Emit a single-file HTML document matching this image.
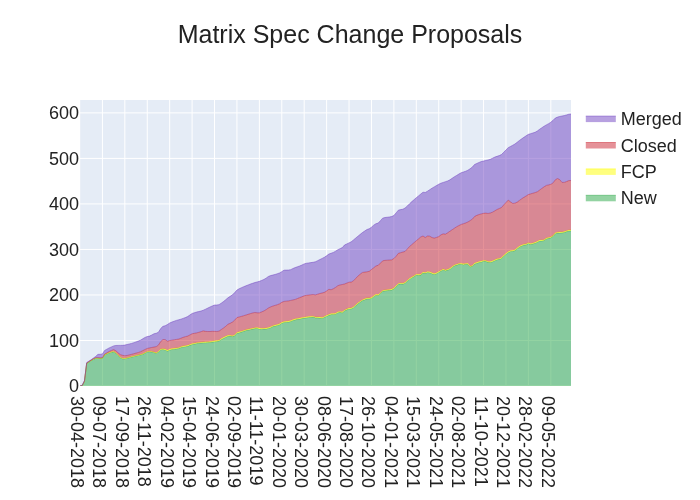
<!DOCTYPE html>
<html><head><meta charset="utf-8"><title>Matrix Spec Change Proposals</title>
<style>html,body{margin:0;padding:0;background:#fff}svg{display:block}text{font-family:"Liberation Sans",Arial,sans-serif;fill:#222}</style></head><body>
<svg width="700" height="500" viewBox="0 0 700 500">
<rect width="700" height="500" fill="#fff"/>
<rect x="80.0" y="100.0" width="491.0" height="286.0" fill="#e5ecf6"/>
<clipPath id="c"><rect x="80" y="100" width="491" height="286"/></clipPath>
<g stroke="#fff" stroke-width="1" clip-path="url(#c)">
<path d="M79.70,100V386"/>
<path d="M102.42,100V386"/>
<path d="M124.84,100V386"/>
<path d="M147.26,100V386"/>
<path d="M169.68,100V386"/>
<path d="M192.10,100V386"/>
<path d="M214.52,100V386"/>
<path d="M236.94,100V386"/>
<path d="M259.36,100V386"/>
<path d="M281.78,100V386"/>
<path d="M304.20,100V386"/>
<path d="M326.62,100V386"/>
<path d="M349.04,100V386"/>
<path d="M371.46,100V386"/>
<path d="M393.88,100V386"/>
<path d="M416.30,100V386"/>
<path d="M438.72,100V386"/>
<path d="M461.14,100V386"/>
<path d="M483.56,100V386"/>
<path d="M505.98,100V386"/>
<path d="M528.40,100V386"/>
<path d="M550.82,100V386"/>
<path d="M80,340.48H571"/>
<path d="M80,294.96H571"/>
<path d="M80,249.44H571"/>
<path d="M80,203.92H571"/>
<path d="M80,158.40H571"/>
<path d="M80,112.88H571"/>
</g>
<path d="M80,386H571" stroke="#fff" stroke-width="2"/>
<g clip-path="url(#c)">
<path d="M80.00,386.00L82.24,385.60L84.48,381.47L86.73,363.50L88.97,362.08L91.21,360.68L93.45,359.39L95.69,358.36L97.94,358.33L100.18,358.52L102.42,358.35L104.66,354.93L106.90,353.93L109.15,352.96L111.39,352.36L113.63,351.87L115.87,353.13L118.11,355.47L120.36,357.69L122.60,358.80L124.84,358.80L127.08,358.26L129.32,357.69L131.57,357.11L133.81,356.55L136.05,355.99L138.29,355.43L140.53,354.89L142.78,354.35L145.02,353.10L147.26,351.97L149.50,351.67L151.74,351.99L153.99,352.50L156.23,353.39L158.47,351.89L160.71,349.75L162.95,349.46L165.20,349.91L167.44,351.17L169.68,349.98L171.92,349.49L174.16,349.13L176.41,348.82L178.65,348.54L180.89,347.55L183.13,346.89L185.37,346.66L187.62,346.25L189.86,345.36L192.10,344.48L194.34,344.03L196.58,343.58L198.83,343.29L201.07,343.03L203.31,342.79L205.55,342.69L207.79,342.59L210.04,342.49L212.28,342.09L214.52,341.69L216.76,341.50L219.00,341.05L221.25,339.52L223.49,338.26L225.73,337.18L227.97,336.21L230.21,336.05L232.46,336.58L234.70,335.60L236.94,333.37L239.18,332.73L241.42,332.06L243.67,331.29L245.91,330.53L248.15,330.07L250.39,329.62L252.63,329.11L254.88,328.58L257.12,328.38L259.36,329.02L261.60,329.15L263.84,329.07L266.09,328.98L268.33,328.42L270.57,327.71L272.81,326.59L275.05,325.99L277.30,325.43L279.54,324.66L281.78,323.26L284.02,322.40L286.26,322.17L288.51,321.95L290.75,321.46L292.99,320.45L295.23,319.77L297.47,319.35L299.72,318.93L301.96,318.51L304.20,318.11L306.44,317.75L308.68,317.49L310.93,317.24L313.17,317.07L315.41,317.80L317.65,317.80L319.89,318.01L322.14,318.43L324.38,317.31L326.62,316.19L328.86,315.30L331.11,314.50L333.35,314.50L335.59,314.13L337.83,312.73L340.07,312.36L342.32,312.74L344.56,310.87L346.80,309.78L349.04,308.88L351.28,308.82L353.53,307.63L355.77,305.61L358.01,303.75L360.25,302.09L362.49,300.60L364.74,299.71L366.98,298.81L369.22,298.80L371.46,298.43L373.70,296.64L375.95,295.24L378.19,295.47L380.43,293.57L382.67,291.33L384.91,290.81L387.16,290.58L389.40,290.30L391.64,289.99L393.88,288.87L396.12,286.49L398.37,284.37L400.61,283.86L402.85,284.08L405.09,283.17L407.33,281.07L409.58,279.17L411.82,277.88L414.06,276.53L416.30,275.12L418.54,275.18L420.79,275.06L423.03,273.01L425.27,273.31L427.51,272.52L429.75,272.75L432.00,273.75L434.24,274.42L436.48,273.67L438.72,272.44L440.96,271.06L443.21,269.88L445.45,270.78L447.69,270.09L449.93,269.16L452.17,267.42L454.42,265.86L456.66,265.11L458.90,264.37L461.14,264.23L463.38,264.68L465.63,264.34L467.87,264.22L470.11,266.78L472.35,266.33L474.59,263.97L476.84,263.22L479.08,262.48L481.32,261.92L483.56,261.36L485.80,261.36L488.05,262.37L490.29,262.46L492.53,261.74L494.77,260.64L497.01,259.71L499.26,259.31L501.50,258.50L503.74,256.26L505.98,254.24L508.22,252.49L510.47,251.40L512.71,251.18L514.95,250.62L517.19,248.73L519.43,247.01L521.68,246.02L523.92,245.04L526.16,244.83L528.40,243.56L530.64,244.46L532.89,243.85L535.13,243.24L537.37,242.25L539.61,241.01L541.85,240.91L544.10,240.56L546.34,238.92L548.58,238.31L550.82,237.78L553.06,236.28L555.31,233.72L557.55,233.09L559.79,232.93L562.03,232.85L564.27,232.49L566.52,231.59L568.76,230.95L571.00,230.80L571.00,386.00L568.76,386.00L566.52,386.00L564.27,386.00L562.03,386.00L559.79,386.00L557.55,386.00L555.31,386.00L553.06,386.00L550.82,386.00L548.58,386.00L546.34,386.00L544.10,386.00L541.85,386.00L539.61,386.00L537.37,386.00L535.13,386.00L532.89,386.00L530.64,386.00L528.40,386.00L526.16,386.00L523.92,386.00L521.68,386.00L519.43,386.00L517.19,386.00L514.95,386.00L512.71,386.00L510.47,386.00L508.22,386.00L505.98,386.00L503.74,386.00L501.50,386.00L499.26,386.00L497.01,386.00L494.77,386.00L492.53,386.00L490.29,386.00L488.05,386.00L485.80,386.00L483.56,386.00L481.32,386.00L479.08,386.00L476.84,386.00L474.59,386.00L472.35,386.00L470.11,386.00L467.87,386.00L465.63,386.00L463.38,386.00L461.14,386.00L458.90,386.00L456.66,386.00L454.42,386.00L452.17,386.00L449.93,386.00L447.69,386.00L445.45,386.00L443.21,386.00L440.96,386.00L438.72,386.00L436.48,386.00L434.24,386.00L432.00,386.00L429.75,386.00L427.51,386.00L425.27,386.00L423.03,386.00L420.79,386.00L418.54,386.00L416.30,386.00L414.06,386.00L411.82,386.00L409.58,386.00L407.33,386.00L405.09,386.00L402.85,386.00L400.61,386.00L398.37,386.00L396.12,386.00L393.88,386.00L391.64,386.00L389.40,386.00L387.16,386.00L384.91,386.00L382.67,386.00L380.43,386.00L378.19,386.00L375.95,386.00L373.70,386.00L371.46,386.00L369.22,386.00L366.98,386.00L364.74,386.00L362.49,386.00L360.25,386.00L358.01,386.00L355.77,386.00L353.53,386.00L351.28,386.00L349.04,386.00L346.80,386.00L344.56,386.00L342.32,386.00L340.07,386.00L337.83,386.00L335.59,386.00L333.35,386.00L331.11,386.00L328.86,386.00L326.62,386.00L324.38,386.00L322.14,386.00L319.89,386.00L317.65,386.00L315.41,386.00L313.17,386.00L310.93,386.00L308.68,386.00L306.44,386.00L304.20,386.00L301.96,386.00L299.72,386.00L297.47,386.00L295.23,386.00L292.99,386.00L290.75,386.00L288.51,386.00L286.26,386.00L284.02,386.00L281.78,386.00L279.54,386.00L277.30,386.00L275.05,386.00L272.81,386.00L270.57,386.00L268.33,386.00L266.09,386.00L263.84,386.00L261.60,386.00L259.36,386.00L257.12,386.00L254.88,386.00L252.63,386.00L250.39,386.00L248.15,386.00L245.91,386.00L243.67,386.00L241.42,386.00L239.18,386.00L236.94,386.00L234.70,386.00L232.46,386.00L230.21,386.00L227.97,386.00L225.73,386.00L223.49,386.00L221.25,386.00L219.00,386.00L216.76,386.00L214.52,386.00L212.28,386.00L210.04,386.00L207.79,386.00L205.55,386.00L203.31,386.00L201.07,386.00L198.83,386.00L196.58,386.00L194.34,386.00L192.10,386.00L189.86,386.00L187.62,386.00L185.37,386.00L183.13,386.00L180.89,386.00L178.65,386.00L176.41,386.00L174.16,386.00L171.92,386.00L169.68,386.00L167.44,386.00L165.20,386.00L162.95,386.00L160.71,386.00L158.47,386.00L156.23,386.00L153.99,386.00L151.74,386.00L149.50,386.00L147.26,386.00L145.02,386.00L142.78,386.00L140.53,386.00L138.29,386.00L136.05,386.00L133.81,386.00L131.57,386.00L129.32,386.00L127.08,386.00L124.84,386.00L122.60,386.00L120.36,386.00L118.11,386.00L115.87,386.00L113.63,386.00L111.39,386.00L109.15,386.00L106.90,386.00L104.66,386.00L102.42,386.00L100.18,386.00L97.94,386.00L95.69,386.00L93.45,386.00L91.21,386.00L88.97,386.00L86.73,386.00L84.48,386.00L82.24,386.00L80.00,386.00Z" fill="#28a745" fill-opacity="0.5" stroke="none"/>
<path d="M80.00,386.00L82.24,385.60L84.48,381.47L86.73,363.50L88.97,362.08L91.21,360.68L93.45,359.39L95.69,358.36L97.94,358.33L100.18,358.52L102.42,358.35L104.66,354.93L106.90,353.93L109.15,352.96L111.39,352.36L113.63,351.87L115.87,353.13L118.11,355.47L120.36,357.69L122.60,358.80L124.84,358.80L127.08,358.26L129.32,357.69L131.57,357.11L133.81,356.55L136.05,355.99L138.29,355.43L140.53,354.89L142.78,354.35L145.02,353.10L147.26,351.97L149.50,351.67L151.74,351.99L153.99,352.50L156.23,353.39L158.47,351.89L160.71,349.75L162.95,349.46L165.20,349.91L167.44,351.17L169.68,349.98L171.92,349.49L174.16,349.13L176.41,348.82L178.65,348.54L180.89,347.55L183.13,346.89L185.37,346.66L187.62,346.25L189.86,345.36L192.10,344.48L194.34,344.03L196.58,343.58L198.83,343.29L201.07,343.03L203.31,342.79L205.55,342.69L207.79,342.59L210.04,342.49L212.28,342.09L214.52,341.69L216.76,341.50L219.00,341.05L221.25,339.52L223.49,338.26L225.73,337.18L227.97,336.21L230.21,336.05L232.46,336.58L234.70,335.60L236.94,333.37L239.18,332.73L241.42,332.06L243.67,331.29L245.91,330.53L248.15,330.07L250.39,329.62L252.63,329.11L254.88,328.58L257.12,328.38L259.36,329.02L261.60,329.15L263.84,329.07L266.09,328.98L268.33,328.42L270.57,327.71L272.81,326.59L275.05,325.99L277.30,325.43L279.54,324.66L281.78,323.26L284.02,322.40L286.26,322.17L288.51,321.95L290.75,321.46L292.99,320.45L295.23,319.77L297.47,319.35L299.72,318.93L301.96,318.51L304.20,318.11L306.44,317.75L308.68,317.49L310.93,317.24L313.17,317.07L315.41,317.80L317.65,317.80L319.89,318.01L322.14,318.43L324.38,317.31L326.62,316.19L328.86,315.30L331.11,314.50L333.35,314.50L335.59,314.13L337.83,312.73L340.07,312.36L342.32,312.74L344.56,310.87L346.80,309.78L349.04,308.88L351.28,308.82L353.53,307.63L355.77,305.61L358.01,303.75L360.25,302.09L362.49,300.60L364.74,299.71L366.98,298.81L369.22,298.80L371.46,298.43L373.70,296.64L375.95,295.24L378.19,295.47L380.43,293.57L382.67,291.33L384.91,290.81L387.16,290.58L389.40,290.30L391.64,289.99L393.88,288.87L396.12,286.49L398.37,284.37L400.61,283.86L402.85,284.08L405.09,283.17L407.33,281.07L409.58,279.17L411.82,277.88L414.06,276.53L416.30,275.12L418.54,275.18L420.79,275.06L423.03,273.01L425.27,273.31L427.51,272.52L429.75,272.75L432.00,273.75L434.24,274.42L436.48,273.67L438.72,272.44L440.96,271.06L443.21,269.88L445.45,270.78L447.69,270.09L449.93,269.16L452.17,267.42L454.42,265.86L456.66,265.11L458.90,264.37L461.14,264.23L463.38,264.68L465.63,264.34L467.87,264.22L470.11,266.78L472.35,266.33L474.59,263.97L476.84,263.22L479.08,262.48L481.32,261.92L483.56,261.36L485.80,261.36L488.05,262.37L490.29,262.46L492.53,261.74L494.77,260.64L497.01,259.71L499.26,259.31L501.50,258.50L503.74,256.26L505.98,254.24L508.22,252.49L510.47,251.40L512.71,251.18L514.95,250.62L517.19,248.73L519.43,247.01L521.68,246.02L523.92,245.04L526.16,244.83L528.40,243.56L530.64,244.46L532.89,243.85L535.13,243.24L537.37,242.25L539.61,241.01L541.85,240.91L544.10,240.56L546.34,238.92L548.58,238.31L550.82,237.78L553.06,236.28L555.31,233.72L557.55,233.09L559.79,232.93L562.03,232.85L564.27,232.49L566.52,231.59L568.76,230.95L571.00,230.80" fill="none" stroke="#28a745" stroke-width="0.5"/>
<path d="M80.00,386.00L82.24,385.50L84.48,381.22L86.73,363.25L88.97,361.81L91.21,360.38L93.45,359.06L95.69,358.01L97.94,357.98L100.18,358.17L102.42,357.99L104.66,354.52L106.90,353.43L109.15,352.46L111.39,351.86L113.63,351.37L115.87,352.63L118.11,354.97L120.36,357.19L122.60,358.30L124.84,358.30L127.08,357.76L129.32,357.19L131.57,356.61L133.81,356.05L136.05,355.49L138.29,354.93L140.53,354.39L142.78,353.85L145.02,352.60L147.26,351.47L149.50,351.17L151.74,351.46L153.99,351.92L156.23,352.77L158.47,351.22L160.71,349.04L162.95,348.70L165.20,349.11L167.44,350.32L169.68,349.09L171.92,348.59L174.16,348.23L176.41,347.92L178.65,347.64L180.89,346.65L183.13,345.99L185.37,345.76L187.62,345.35L189.86,344.46L192.10,343.58L194.34,343.13L196.58,342.68L198.83,342.39L201.07,342.13L203.31,341.89L205.55,341.79L207.79,341.69L210.04,341.59L212.28,341.19L214.52,340.79L216.76,340.60L219.00,340.15L221.25,338.62L223.49,337.36L225.73,336.28L227.97,335.31L230.21,335.15L232.46,335.68L234.70,334.70L236.94,332.47L239.18,331.83L241.42,331.16L243.67,330.39L245.91,329.63L248.15,329.17L250.39,328.72L252.63,328.21L254.88,327.68L257.12,327.48L259.36,328.12L261.60,328.25L263.84,328.17L266.09,328.08L268.33,327.52L270.57,326.81L272.81,325.69L275.05,325.09L277.30,324.53L279.54,323.76L281.78,322.36L284.02,321.50L286.26,321.27L288.51,321.05L290.75,320.56L292.99,319.55L295.23,318.87L297.47,318.45L299.72,318.03L301.96,317.61L304.20,317.21L306.44,316.85L308.68,316.59L310.93,316.34L313.17,316.17L315.41,316.90L317.65,316.90L319.89,317.11L322.14,317.53L324.38,316.41L326.62,315.29L328.86,314.40L331.11,313.60L333.35,313.60L335.59,313.23L337.83,311.83L340.07,311.46L342.32,311.84L344.56,309.97L346.80,308.88L349.04,307.98L351.28,307.92L353.53,306.73L355.77,304.71L358.01,302.85L360.25,301.19L362.49,299.70L364.74,298.81L366.98,297.91L369.22,297.90L371.46,297.53L373.70,295.74L375.95,294.34L378.19,294.57L380.43,292.67L382.67,290.43L384.91,289.91L387.16,289.68L389.40,289.40L391.64,289.09L393.88,287.97L396.12,285.59L398.37,283.47L400.61,282.96L402.85,283.18L405.09,282.27L407.33,280.17L409.58,278.27L411.82,276.98L414.06,275.63L416.30,274.22L418.54,274.28L420.79,274.16L423.03,272.11L425.27,272.41L427.51,271.62L429.75,271.85L432.00,272.85L434.24,273.52L436.48,272.77L438.72,271.54L440.96,270.16L443.21,268.98L445.45,269.88L447.69,269.19L449.93,268.26L452.17,266.52L454.42,264.96L456.66,264.21L458.90,263.47L461.14,263.33L463.38,263.78L465.63,263.44L467.87,263.32L470.11,265.88L472.35,265.43L474.59,263.07L476.84,262.32L479.08,261.58L481.32,261.02L483.56,260.46L485.80,260.46L488.05,261.47L490.29,261.56L492.53,260.84L494.77,259.74L497.01,258.81L499.26,258.41L501.50,257.60L503.74,255.36L505.98,253.34L508.22,251.59L510.47,250.50L512.71,250.28L514.95,249.72L517.19,247.83L519.43,246.11L521.68,245.12L523.92,244.14L526.16,243.93L528.40,242.66L530.64,243.56L532.89,242.95L535.13,242.34L537.37,241.35L539.61,240.11L541.85,240.01L544.10,239.66L546.34,238.02L548.58,237.41L550.82,236.88L553.06,235.38L555.31,232.82L557.55,232.19L559.79,232.03L562.03,231.95L564.27,231.59L566.52,230.69L568.76,230.05L571.00,229.90L571.00,230.80L568.76,230.95L566.52,231.59L564.27,232.49L562.03,232.85L559.79,232.93L557.55,233.09L555.31,233.72L553.06,236.28L550.82,237.78L548.58,238.31L546.34,238.92L544.10,240.56L541.85,240.91L539.61,241.01L537.37,242.25L535.13,243.24L532.89,243.85L530.64,244.46L528.40,243.56L526.16,244.83L523.92,245.04L521.68,246.02L519.43,247.01L517.19,248.73L514.95,250.62L512.71,251.18L510.47,251.40L508.22,252.49L505.98,254.24L503.74,256.26L501.50,258.50L499.26,259.31L497.01,259.71L494.77,260.64L492.53,261.74L490.29,262.46L488.05,262.37L485.80,261.36L483.56,261.36L481.32,261.92L479.08,262.48L476.84,263.22L474.59,263.97L472.35,266.33L470.11,266.78L467.87,264.22L465.63,264.34L463.38,264.68L461.14,264.23L458.90,264.37L456.66,265.11L454.42,265.86L452.17,267.42L449.93,269.16L447.69,270.09L445.45,270.78L443.21,269.88L440.96,271.06L438.72,272.44L436.48,273.67L434.24,274.42L432.00,273.75L429.75,272.75L427.51,272.52L425.27,273.31L423.03,273.01L420.79,275.06L418.54,275.18L416.30,275.12L414.06,276.53L411.82,277.88L409.58,279.17L407.33,281.07L405.09,283.17L402.85,284.08L400.61,283.86L398.37,284.37L396.12,286.49L393.88,288.87L391.64,289.99L389.40,290.30L387.16,290.58L384.91,290.81L382.67,291.33L380.43,293.57L378.19,295.47L375.95,295.24L373.70,296.64L371.46,298.43L369.22,298.80L366.98,298.81L364.74,299.71L362.49,300.60L360.25,302.09L358.01,303.75L355.77,305.61L353.53,307.63L351.28,308.82L349.04,308.88L346.80,309.78L344.56,310.87L342.32,312.74L340.07,312.36L337.83,312.73L335.59,314.13L333.35,314.50L331.11,314.50L328.86,315.30L326.62,316.19L324.38,317.31L322.14,318.43L319.89,318.01L317.65,317.80L315.41,317.80L313.17,317.07L310.93,317.24L308.68,317.49L306.44,317.75L304.20,318.11L301.96,318.51L299.72,318.93L297.47,319.35L295.23,319.77L292.99,320.45L290.75,321.46L288.51,321.95L286.26,322.17L284.02,322.40L281.78,323.26L279.54,324.66L277.30,325.43L275.05,325.99L272.81,326.59L270.57,327.71L268.33,328.42L266.09,328.98L263.84,329.07L261.60,329.15L259.36,329.02L257.12,328.38L254.88,328.58L252.63,329.11L250.39,329.62L248.15,330.07L245.91,330.53L243.67,331.29L241.42,332.06L239.18,332.73L236.94,333.37L234.70,335.60L232.46,336.58L230.21,336.05L227.97,336.21L225.73,337.18L223.49,338.26L221.25,339.52L219.00,341.05L216.76,341.50L214.52,341.69L212.28,342.09L210.04,342.49L207.79,342.59L205.55,342.69L203.31,342.79L201.07,343.03L198.83,343.29L196.58,343.58L194.34,344.03L192.10,344.48L189.86,345.36L187.62,346.25L185.37,346.66L183.13,346.89L180.89,347.55L178.65,348.54L176.41,348.82L174.16,349.13L171.92,349.49L169.68,349.98L167.44,351.17L165.20,349.91L162.95,349.46L160.71,349.75L158.47,351.89L156.23,353.39L153.99,352.50L151.74,351.99L149.50,351.67L147.26,351.97L145.02,353.10L142.78,354.35L140.53,354.89L138.29,355.43L136.05,355.99L133.81,356.55L131.57,357.11L129.32,357.69L127.08,358.26L124.84,358.80L122.60,358.80L120.36,357.69L118.11,355.47L115.87,353.13L113.63,351.87L111.39,352.36L109.15,352.96L106.90,353.93L104.66,354.93L102.42,358.35L100.18,358.52L97.94,358.33L95.69,358.36L93.45,359.39L91.21,360.68L88.97,362.08L86.73,363.50L84.48,381.47L82.24,385.60L80.00,386.00Z" fill="#ffff00" fill-opacity="0.5" stroke="none"/>
<path d="M80.00,386.00L82.24,385.50L84.48,381.22L86.73,363.25L88.97,361.81L91.21,360.38L93.45,359.06L95.69,358.01L97.94,357.98L100.18,358.17L102.42,357.99L104.66,354.52L106.90,353.43L109.15,352.46L111.39,351.86L113.63,351.37L115.87,352.63L118.11,354.97L120.36,357.19L122.60,358.30L124.84,358.30L127.08,357.76L129.32,357.19L131.57,356.61L133.81,356.05L136.05,355.49L138.29,354.93L140.53,354.39L142.78,353.85L145.02,352.60L147.26,351.47L149.50,351.17L151.74,351.46L153.99,351.92L156.23,352.77L158.47,351.22L160.71,349.04L162.95,348.70L165.20,349.11L167.44,350.32L169.68,349.09L171.92,348.59L174.16,348.23L176.41,347.92L178.65,347.64L180.89,346.65L183.13,345.99L185.37,345.76L187.62,345.35L189.86,344.46L192.10,343.58L194.34,343.13L196.58,342.68L198.83,342.39L201.07,342.13L203.31,341.89L205.55,341.79L207.79,341.69L210.04,341.59L212.28,341.19L214.52,340.79L216.76,340.60L219.00,340.15L221.25,338.62L223.49,337.36L225.73,336.28L227.97,335.31L230.21,335.15L232.46,335.68L234.70,334.70L236.94,332.47L239.18,331.83L241.42,331.16L243.67,330.39L245.91,329.63L248.15,329.17L250.39,328.72L252.63,328.21L254.88,327.68L257.12,327.48L259.36,328.12L261.60,328.25L263.84,328.17L266.09,328.08L268.33,327.52L270.57,326.81L272.81,325.69L275.05,325.09L277.30,324.53L279.54,323.76L281.78,322.36L284.02,321.50L286.26,321.27L288.51,321.05L290.75,320.56L292.99,319.55L295.23,318.87L297.47,318.45L299.72,318.03L301.96,317.61L304.20,317.21L306.44,316.85L308.68,316.59L310.93,316.34L313.17,316.17L315.41,316.90L317.65,316.90L319.89,317.11L322.14,317.53L324.38,316.41L326.62,315.29L328.86,314.40L331.11,313.60L333.35,313.60L335.59,313.23L337.83,311.83L340.07,311.46L342.32,311.84L344.56,309.97L346.80,308.88L349.04,307.98L351.28,307.92L353.53,306.73L355.77,304.71L358.01,302.85L360.25,301.19L362.49,299.70L364.74,298.81L366.98,297.91L369.22,297.90L371.46,297.53L373.70,295.74L375.95,294.34L378.19,294.57L380.43,292.67L382.67,290.43L384.91,289.91L387.16,289.68L389.40,289.40L391.64,289.09L393.88,287.97L396.12,285.59L398.37,283.47L400.61,282.96L402.85,283.18L405.09,282.27L407.33,280.17L409.58,278.27L411.82,276.98L414.06,275.63L416.30,274.22L418.54,274.28L420.79,274.16L423.03,272.11L425.27,272.41L427.51,271.62L429.75,271.85L432.00,272.85L434.24,273.52L436.48,272.77L438.72,271.54L440.96,270.16L443.21,268.98L445.45,269.88L447.69,269.19L449.93,268.26L452.17,266.52L454.42,264.96L456.66,264.21L458.90,263.47L461.14,263.33L463.38,263.78L465.63,263.44L467.87,263.32L470.11,265.88L472.35,265.43L474.59,263.07L476.84,262.32L479.08,261.58L481.32,261.02L483.56,260.46L485.80,260.46L488.05,261.47L490.29,261.56L492.53,260.84L494.77,259.74L497.01,258.81L499.26,258.41L501.50,257.60L503.74,255.36L505.98,253.34L508.22,251.59L510.47,250.50L512.71,250.28L514.95,249.72L517.19,247.83L519.43,246.11L521.68,245.12L523.92,244.14L526.16,243.93L528.40,242.66L530.64,243.56L532.89,242.95L535.13,242.34L537.37,241.35L539.61,240.11L541.85,240.01L544.10,239.66L546.34,238.02L548.58,237.41L550.82,236.88L553.06,235.38L555.31,232.82L557.55,232.19L559.79,232.03L562.03,231.95L564.27,231.59L566.52,230.69L568.76,230.05L571.00,229.90" fill="none" stroke="#ffff00" stroke-width="0.5"/>
<path d="M80.00,386.00L82.24,385.40L84.48,380.97L86.73,363.00L88.97,361.53L91.21,360.07L93.45,358.73L95.69,357.66L97.94,357.63L100.18,357.82L102.42,357.64L104.66,354.10L106.90,352.76L109.15,351.44L111.39,350.44L113.63,349.57L115.87,350.73L118.11,352.76L120.36,354.62L122.60,355.34L124.84,355.72L127.08,355.48L129.32,354.90L131.57,354.31L133.81,353.70L136.05,353.09L138.29,352.47L140.53,351.73L142.78,350.61L145.02,349.49L147.26,348.44L149.50,347.92L151.74,347.48L153.99,347.06L156.23,346.64L158.47,345.03L160.71,341.50L162.95,339.53L165.20,339.63L167.44,341.16L169.68,340.59L171.92,340.18L174.16,339.81L176.41,339.43L178.65,339.06L180.89,338.24L183.13,337.35L185.37,336.66L187.62,336.10L189.86,334.98L192.10,333.78L194.34,333.33L196.58,332.88L198.83,332.31L201.07,331.63L203.31,330.86L205.55,331.37L207.79,331.50L210.04,331.50L212.28,331.33L214.52,331.36L216.76,331.50L219.00,331.14L221.25,329.54L223.49,328.01L225.73,326.32L227.97,324.23L230.21,323.31L232.46,322.03L234.70,320.18L236.94,317.57L239.18,316.95L241.42,316.37L243.67,315.70L245.91,315.03L248.15,314.32L250.39,313.62L252.63,312.91L254.88,312.52L257.12,312.76L259.36,312.85L261.60,311.92L263.84,310.98L266.09,309.68L268.33,308.00L270.57,306.91L272.81,306.07L275.05,305.38L277.30,304.71L279.54,303.84L281.78,302.32L284.02,301.40L286.26,301.17L288.51,300.89L290.75,300.41L292.99,299.93L295.23,299.41L297.47,298.51L299.72,297.61L301.96,296.72L304.20,295.82L306.44,295.32L308.68,295.04L310.93,294.76L313.17,294.54L315.41,294.88L317.65,294.20L319.89,293.53L322.14,292.94L324.38,292.36L326.62,290.98L328.86,289.30L331.11,289.75L333.35,288.73L335.59,287.38L337.83,285.70L340.07,284.91L342.32,284.51L344.56,283.98L346.80,283.08L349.04,282.18L351.28,282.12L353.53,280.68L355.77,278.31L358.01,276.09L360.25,274.07L362.49,272.43L364.74,272.11L366.98,271.79L369.22,271.32L371.46,269.53L373.70,267.74L375.95,265.98L378.19,265.31L380.43,263.07L382.67,260.83L384.91,260.36L387.16,260.19L389.40,260.03L391.64,259.86L393.88,258.51L396.12,256.21L398.37,253.37L400.61,252.65L402.85,252.06L405.09,251.40L407.33,248.91L409.58,246.44L411.82,244.54L414.06,242.64L416.30,240.74L418.54,238.85L420.79,236.95L423.03,235.99L425.27,237.56L427.51,236.00L429.75,236.16L432.00,237.57L434.24,238.08L436.48,237.45L438.72,236.60L440.96,234.86L443.21,233.84L445.45,234.19L447.69,232.73L449.93,231.22L452.17,229.72L454.42,228.22L456.66,226.73L458.90,225.55L461.14,224.45L463.38,223.71L465.63,222.96L467.87,221.98L470.11,220.63L472.35,219.09L474.59,216.47L476.84,215.34L479.08,214.53L481.32,213.88L483.56,213.35L485.80,213.11L488.05,213.44L490.29,212.99L492.53,212.18L494.77,210.84L497.01,209.49L499.26,208.50L501.50,207.50L503.74,204.94L505.98,202.46L508.22,200.08L510.47,201.80L512.71,203.47L514.95,203.15L517.19,202.11L519.43,200.42L521.68,198.74L523.92,197.32L526.16,195.94L528.40,194.56L530.64,193.87L532.89,193.21L535.13,192.55L537.37,191.72L539.61,190.04L541.85,188.40L544.10,186.83L546.34,185.42L548.58,184.93L550.82,184.31L553.06,182.91L555.31,179.77L557.55,178.52L559.79,179.69L562.03,182.40L564.27,182.39L566.52,181.58L568.76,180.60L571.00,180.50L571.00,229.90L568.76,230.05L566.52,230.69L564.27,231.59L562.03,231.95L559.79,232.03L557.55,232.19L555.31,232.82L553.06,235.38L550.82,236.88L548.58,237.41L546.34,238.02L544.10,239.66L541.85,240.01L539.61,240.11L537.37,241.35L535.13,242.34L532.89,242.95L530.64,243.56L528.40,242.66L526.16,243.93L523.92,244.14L521.68,245.12L519.43,246.11L517.19,247.83L514.95,249.72L512.71,250.28L510.47,250.50L508.22,251.59L505.98,253.34L503.74,255.36L501.50,257.60L499.26,258.41L497.01,258.81L494.77,259.74L492.53,260.84L490.29,261.56L488.05,261.47L485.80,260.46L483.56,260.46L481.32,261.02L479.08,261.58L476.84,262.32L474.59,263.07L472.35,265.43L470.11,265.88L467.87,263.32L465.63,263.44L463.38,263.78L461.14,263.33L458.90,263.47L456.66,264.21L454.42,264.96L452.17,266.52L449.93,268.26L447.69,269.19L445.45,269.88L443.21,268.98L440.96,270.16L438.72,271.54L436.48,272.77L434.24,273.52L432.00,272.85L429.75,271.85L427.51,271.62L425.27,272.41L423.03,272.11L420.79,274.16L418.54,274.28L416.30,274.22L414.06,275.63L411.82,276.98L409.58,278.27L407.33,280.17L405.09,282.27L402.85,283.18L400.61,282.96L398.37,283.47L396.12,285.59L393.88,287.97L391.64,289.09L389.40,289.40L387.16,289.68L384.91,289.91L382.67,290.43L380.43,292.67L378.19,294.57L375.95,294.34L373.70,295.74L371.46,297.53L369.22,297.90L366.98,297.91L364.74,298.81L362.49,299.70L360.25,301.19L358.01,302.85L355.77,304.71L353.53,306.73L351.28,307.92L349.04,307.98L346.80,308.88L344.56,309.97L342.32,311.84L340.07,311.46L337.83,311.83L335.59,313.23L333.35,313.60L331.11,313.60L328.86,314.40L326.62,315.29L324.38,316.41L322.14,317.53L319.89,317.11L317.65,316.90L315.41,316.90L313.17,316.17L310.93,316.34L308.68,316.59L306.44,316.85L304.20,317.21L301.96,317.61L299.72,318.03L297.47,318.45L295.23,318.87L292.99,319.55L290.75,320.56L288.51,321.05L286.26,321.27L284.02,321.50L281.78,322.36L279.54,323.76L277.30,324.53L275.05,325.09L272.81,325.69L270.57,326.81L268.33,327.52L266.09,328.08L263.84,328.17L261.60,328.25L259.36,328.12L257.12,327.48L254.88,327.68L252.63,328.21L250.39,328.72L248.15,329.17L245.91,329.63L243.67,330.39L241.42,331.16L239.18,331.83L236.94,332.47L234.70,334.70L232.46,335.68L230.21,335.15L227.97,335.31L225.73,336.28L223.49,337.36L221.25,338.62L219.00,340.15L216.76,340.60L214.52,340.79L212.28,341.19L210.04,341.59L207.79,341.69L205.55,341.79L203.31,341.89L201.07,342.13L198.83,342.39L196.58,342.68L194.34,343.13L192.10,343.58L189.86,344.46L187.62,345.35L185.37,345.76L183.13,345.99L180.89,346.65L178.65,347.64L176.41,347.92L174.16,348.23L171.92,348.59L169.68,349.09L167.44,350.32L165.20,349.11L162.95,348.70L160.71,349.04L158.47,351.22L156.23,352.77L153.99,351.92L151.74,351.46L149.50,351.17L147.26,351.47L145.02,352.60L142.78,353.85L140.53,354.39L138.29,354.93L136.05,355.49L133.81,356.05L131.57,356.61L129.32,357.19L127.08,357.76L124.84,358.30L122.60,358.30L120.36,357.19L118.11,354.97L115.87,352.63L113.63,351.37L111.39,351.86L109.15,352.46L106.90,353.43L104.66,354.52L102.42,357.99L100.18,358.17L97.94,357.98L95.69,358.01L93.45,359.06L91.21,360.38L88.97,361.81L86.73,363.25L84.48,381.22L82.24,385.50L80.00,386.00Z" fill="#cb2431" fill-opacity="0.5" stroke="none"/>
<path d="M80.00,386.00L82.24,385.40L84.48,380.97L86.73,363.00L88.97,361.53L91.21,360.07L93.45,358.73L95.69,357.66L97.94,357.63L100.18,357.82L102.42,357.64L104.66,354.10L106.90,352.76L109.15,351.44L111.39,350.44L113.63,349.57L115.87,350.73L118.11,352.76L120.36,354.62L122.60,355.34L124.84,355.72L127.08,355.48L129.32,354.90L131.57,354.31L133.81,353.70L136.05,353.09L138.29,352.47L140.53,351.73L142.78,350.61L145.02,349.49L147.26,348.44L149.50,347.92L151.74,347.48L153.99,347.06L156.23,346.64L158.47,345.03L160.71,341.50L162.95,339.53L165.20,339.63L167.44,341.16L169.68,340.59L171.92,340.18L174.16,339.81L176.41,339.43L178.65,339.06L180.89,338.24L183.13,337.35L185.37,336.66L187.62,336.10L189.86,334.98L192.10,333.78L194.34,333.33L196.58,332.88L198.83,332.31L201.07,331.63L203.31,330.86L205.55,331.37L207.79,331.50L210.04,331.50L212.28,331.33L214.52,331.36L216.76,331.50L219.00,331.14L221.25,329.54L223.49,328.01L225.73,326.32L227.97,324.23L230.21,323.31L232.46,322.03L234.70,320.18L236.94,317.57L239.18,316.95L241.42,316.37L243.67,315.70L245.91,315.03L248.15,314.32L250.39,313.62L252.63,312.91L254.88,312.52L257.12,312.76L259.36,312.85L261.60,311.92L263.84,310.98L266.09,309.68L268.33,308.00L270.57,306.91L272.81,306.07L275.05,305.38L277.30,304.71L279.54,303.84L281.78,302.32L284.02,301.40L286.26,301.17L288.51,300.89L290.75,300.41L292.99,299.93L295.23,299.41L297.47,298.51L299.72,297.61L301.96,296.72L304.20,295.82L306.44,295.32L308.68,295.04L310.93,294.76L313.17,294.54L315.41,294.88L317.65,294.20L319.89,293.53L322.14,292.94L324.38,292.36L326.62,290.98L328.86,289.30L331.11,289.75L333.35,288.73L335.59,287.38L337.83,285.70L340.07,284.91L342.32,284.51L344.56,283.98L346.80,283.08L349.04,282.18L351.28,282.12L353.53,280.68L355.77,278.31L358.01,276.09L360.25,274.07L362.49,272.43L364.74,272.11L366.98,271.79L369.22,271.32L371.46,269.53L373.70,267.74L375.95,265.98L378.19,265.31L380.43,263.07L382.67,260.83L384.91,260.36L387.16,260.19L389.40,260.03L391.64,259.86L393.88,258.51L396.12,256.21L398.37,253.37L400.61,252.65L402.85,252.06L405.09,251.40L407.33,248.91L409.58,246.44L411.82,244.54L414.06,242.64L416.30,240.74L418.54,238.85L420.79,236.95L423.03,235.99L425.27,237.56L427.51,236.00L429.75,236.16L432.00,237.57L434.24,238.08L436.48,237.45L438.72,236.60L440.96,234.86L443.21,233.84L445.45,234.19L447.69,232.73L449.93,231.22L452.17,229.72L454.42,228.22L456.66,226.73L458.90,225.55L461.14,224.45L463.38,223.71L465.63,222.96L467.87,221.98L470.11,220.63L472.35,219.09L474.59,216.47L476.84,215.34L479.08,214.53L481.32,213.88L483.56,213.35L485.80,213.11L488.05,213.44L490.29,212.99L492.53,212.18L494.77,210.84L497.01,209.49L499.26,208.50L501.50,207.50L503.74,204.94L505.98,202.46L508.22,200.08L510.47,201.80L512.71,203.47L514.95,203.15L517.19,202.11L519.43,200.42L521.68,198.74L523.92,197.32L526.16,195.94L528.40,194.56L530.64,193.87L532.89,193.21L535.13,192.55L537.37,191.72L539.61,190.04L541.85,188.40L544.10,186.83L546.34,185.42L548.58,184.93L550.82,184.31L553.06,182.91L555.31,179.77L557.55,178.52L559.79,179.69L562.03,182.40L564.27,182.39L566.52,181.58L568.76,180.60L571.00,180.50" fill="none" stroke="#cb2431" stroke-width="0.5"/>
<path d="M80.00,386.00L82.24,385.20L84.48,380.47L86.73,362.50L88.97,361.08L91.21,359.65L93.45,358.08L95.69,356.38L97.94,354.36L100.18,354.30L102.42,353.94L104.66,350.41L106.90,349.16L109.15,347.93L111.39,346.91L113.63,345.90L115.87,345.47L118.11,345.42L120.36,345.38L122.60,345.33L124.84,345.09L127.08,344.53L129.32,343.97L131.57,343.41L133.81,342.67L136.05,341.88L138.29,341.10L140.53,340.17L142.78,338.79L145.02,337.41L147.26,336.55L149.50,336.10L151.74,335.03L153.99,333.79L156.23,333.25L158.47,332.22L160.71,328.48L162.95,326.37L165.20,325.73L167.44,324.53L169.68,323.02L171.92,322.06L174.16,321.20L176.41,320.40L178.65,319.84L180.89,319.18L183.13,318.38L185.37,317.58L187.62,316.57L189.86,315.00L192.10,313.47L194.34,312.74L196.58,312.06L198.83,311.54L201.07,311.02L203.31,310.21L205.55,309.20L207.79,308.10L210.04,306.98L212.28,305.97L214.52,305.10L216.76,305.00L219.00,304.66L221.25,303.17L223.49,301.59L225.73,299.71L227.97,297.82L230.21,296.34L232.46,294.86L234.70,292.61L236.94,290.12L239.18,288.74L241.42,287.72L243.67,286.73L245.91,285.84L248.15,284.94L250.39,284.07L252.63,283.30L254.88,282.54L257.12,281.97L259.36,281.35L261.60,280.42L263.84,279.48L266.09,278.18L268.33,276.50L270.57,275.61L272.81,275.05L275.05,274.48L277.30,273.72L279.54,272.96L281.78,271.64L284.02,270.20L286.26,270.12L288.51,270.05L290.75,269.63L292.99,268.50L295.23,267.56L297.47,266.76L299.72,265.96L301.96,265.02L304.20,263.90L306.44,263.28L308.68,262.95L310.93,262.61L313.17,262.27L315.41,261.79L317.65,260.67L319.89,259.55L322.14,258.43L324.38,257.31L326.62,255.78L328.86,254.10L331.11,253.24L333.35,252.44L335.59,251.18L337.83,249.75L340.07,248.64L342.32,247.62L344.56,244.97L346.80,243.94L349.04,242.90L351.28,241.76L353.53,239.90L355.77,238.03L358.01,236.17L360.25,234.34L362.49,232.51L364.74,231.01L366.98,229.52L369.22,228.76L371.46,227.18L373.70,225.17L375.95,223.73L378.19,223.09L380.43,220.68L382.67,218.15L384.91,217.52L387.16,217.25L389.40,216.99L391.64,216.52L393.88,215.55L396.12,212.90L398.37,210.16L400.61,209.62L402.85,209.21L405.09,208.02L407.33,206.00L409.58,203.75L411.82,201.62L414.06,199.68L416.30,197.75L418.54,195.89L420.79,194.03L423.03,192.20L425.27,192.47L427.51,191.17L429.75,189.69L432.00,188.20L434.24,186.89L436.48,185.57L438.72,184.25L440.96,183.18L443.21,182.43L445.45,181.68L447.69,180.94L449.93,179.85L452.17,178.28L454.42,176.75L456.66,175.41L458.90,174.06L461.14,172.75L463.38,172.01L465.63,171.26L467.87,170.23L470.11,168.75L472.35,167.08L474.59,164.46L476.84,163.46L479.08,162.46L481.32,161.53L483.56,161.00L485.80,160.48L488.05,159.96L490.29,159.36L492.53,158.24L494.77,157.11L497.01,156.33L499.26,155.58L501.50,154.50L503.74,152.26L505.98,149.92L508.22,147.68L510.47,146.46L512.71,145.24L514.95,144.03L517.19,142.25L519.43,140.45L521.68,138.85L523.92,137.31L526.16,135.77L528.40,134.37L530.64,133.67L532.89,132.97L535.13,132.27L537.37,130.97L539.61,129.29L541.85,127.74L544.10,126.21L546.34,124.88L548.58,123.66L550.82,122.23L553.06,120.34L555.31,118.09L557.55,117.10L559.79,116.46L562.03,116.02L564.27,115.60L566.52,114.93L568.76,114.26L571.00,114.00L571.00,180.50L568.76,180.60L566.52,181.58L564.27,182.39L562.03,182.40L559.79,179.69L557.55,178.52L555.31,179.77L553.06,182.91L550.82,184.31L548.58,184.93L546.34,185.42L544.10,186.83L541.85,188.40L539.61,190.04L537.37,191.72L535.13,192.55L532.89,193.21L530.64,193.87L528.40,194.56L526.16,195.94L523.92,197.32L521.68,198.74L519.43,200.42L517.19,202.11L514.95,203.15L512.71,203.47L510.47,201.80L508.22,200.08L505.98,202.46L503.74,204.94L501.50,207.50L499.26,208.50L497.01,209.49L494.77,210.84L492.53,212.18L490.29,212.99L488.05,213.44L485.80,213.11L483.56,213.35L481.32,213.88L479.08,214.53L476.84,215.34L474.59,216.47L472.35,219.09L470.11,220.63L467.87,221.98L465.63,222.96L463.38,223.71L461.14,224.45L458.90,225.55L456.66,226.73L454.42,228.22L452.17,229.72L449.93,231.22L447.69,232.73L445.45,234.19L443.21,233.84L440.96,234.86L438.72,236.60L436.48,237.45L434.24,238.08L432.00,237.57L429.75,236.16L427.51,236.00L425.27,237.56L423.03,235.99L420.79,236.95L418.54,238.85L416.30,240.74L414.06,242.64L411.82,244.54L409.58,246.44L407.33,248.91L405.09,251.40L402.85,252.06L400.61,252.65L398.37,253.37L396.12,256.21L393.88,258.51L391.64,259.86L389.40,260.03L387.16,260.19L384.91,260.36L382.67,260.83L380.43,263.07L378.19,265.31L375.95,265.98L373.70,267.74L371.46,269.53L369.22,271.32L366.98,271.79L364.74,272.11L362.49,272.43L360.25,274.07L358.01,276.09L355.77,278.31L353.53,280.68L351.28,282.12L349.04,282.18L346.80,283.08L344.56,283.98L342.32,284.51L340.07,284.91L337.83,285.70L335.59,287.38L333.35,288.73L331.11,289.75L328.86,289.30L326.62,290.98L324.38,292.36L322.14,292.94L319.89,293.53L317.65,294.20L315.41,294.88L313.17,294.54L310.93,294.76L308.68,295.04L306.44,295.32L304.20,295.82L301.96,296.72L299.72,297.61L297.47,298.51L295.23,299.41L292.99,299.93L290.75,300.41L288.51,300.89L286.26,301.17L284.02,301.40L281.78,302.32L279.54,303.84L277.30,304.71L275.05,305.38L272.81,306.07L270.57,306.91L268.33,308.00L266.09,309.68L263.84,310.98L261.60,311.92L259.36,312.85L257.12,312.76L254.88,312.52L252.63,312.91L250.39,313.62L248.15,314.32L245.91,315.03L243.67,315.70L241.42,316.37L239.18,316.95L236.94,317.57L234.70,320.18L232.46,322.03L230.21,323.31L227.97,324.23L225.73,326.32L223.49,328.01L221.25,329.54L219.00,331.14L216.76,331.50L214.52,331.36L212.28,331.33L210.04,331.50L207.79,331.50L205.55,331.37L203.31,330.86L201.07,331.63L198.83,332.31L196.58,332.88L194.34,333.33L192.10,333.78L189.86,334.98L187.62,336.10L185.37,336.66L183.13,337.35L180.89,338.24L178.65,339.06L176.41,339.43L174.16,339.81L171.92,340.18L169.68,340.59L167.44,341.16L165.20,339.63L162.95,339.53L160.71,341.50L158.47,345.03L156.23,346.64L153.99,347.06L151.74,347.48L149.50,347.92L147.26,348.44L145.02,349.49L142.78,350.61L140.53,351.73L138.29,352.47L136.05,353.09L133.81,353.70L131.57,354.31L129.32,354.90L127.08,355.48L124.84,355.72L122.60,355.34L120.36,354.62L118.11,352.76L115.87,350.73L113.63,349.57L111.39,350.44L109.15,351.44L106.90,352.76L104.66,354.10L102.42,357.64L100.18,357.82L97.94,357.63L95.69,357.66L93.45,358.73L91.21,360.07L88.97,361.53L86.73,363.00L84.48,380.97L82.24,385.40L80.00,386.00Z" fill="#6f42c1" fill-opacity="0.5" stroke="none"/>
<path d="M80.00,386.00L82.24,385.20L84.48,380.47L86.73,362.50L88.97,361.08L91.21,359.65L93.45,358.08L95.69,356.38L97.94,354.36L100.18,354.30L102.42,353.94L104.66,350.41L106.90,349.16L109.15,347.93L111.39,346.91L113.63,345.90L115.87,345.47L118.11,345.42L120.36,345.38L122.60,345.33L124.84,345.09L127.08,344.53L129.32,343.97L131.57,343.41L133.81,342.67L136.05,341.88L138.29,341.10L140.53,340.17L142.78,338.79L145.02,337.41L147.26,336.55L149.50,336.10L151.74,335.03L153.99,333.79L156.23,333.25L158.47,332.22L160.71,328.48L162.95,326.37L165.20,325.73L167.44,324.53L169.68,323.02L171.92,322.06L174.16,321.20L176.41,320.40L178.65,319.84L180.89,319.18L183.13,318.38L185.37,317.58L187.62,316.57L189.86,315.00L192.10,313.47L194.34,312.74L196.58,312.06L198.83,311.54L201.07,311.02L203.31,310.21L205.55,309.20L207.79,308.10L210.04,306.98L212.28,305.97L214.52,305.10L216.76,305.00L219.00,304.66L221.25,303.17L223.49,301.59L225.73,299.71L227.97,297.82L230.21,296.34L232.46,294.86L234.70,292.61L236.94,290.12L239.18,288.74L241.42,287.72L243.67,286.73L245.91,285.84L248.15,284.94L250.39,284.07L252.63,283.30L254.88,282.54L257.12,281.97L259.36,281.35L261.60,280.42L263.84,279.48L266.09,278.18L268.33,276.50L270.57,275.61L272.81,275.05L275.05,274.48L277.30,273.72L279.54,272.96L281.78,271.64L284.02,270.20L286.26,270.12L288.51,270.05L290.75,269.63L292.99,268.50L295.23,267.56L297.47,266.76L299.72,265.96L301.96,265.02L304.20,263.90L306.44,263.28L308.68,262.95L310.93,262.61L313.17,262.27L315.41,261.79L317.65,260.67L319.89,259.55L322.14,258.43L324.38,257.31L326.62,255.78L328.86,254.10L331.11,253.24L333.35,252.44L335.59,251.18L337.83,249.75L340.07,248.64L342.32,247.62L344.56,244.97L346.80,243.94L349.04,242.90L351.28,241.76L353.53,239.90L355.77,238.03L358.01,236.17L360.25,234.34L362.49,232.51L364.74,231.01L366.98,229.52L369.22,228.76L371.46,227.18L373.70,225.17L375.95,223.73L378.19,223.09L380.43,220.68L382.67,218.15L384.91,217.52L387.16,217.25L389.40,216.99L391.64,216.52L393.88,215.55L396.12,212.90L398.37,210.16L400.61,209.62L402.85,209.21L405.09,208.02L407.33,206.00L409.58,203.75L411.82,201.62L414.06,199.68L416.30,197.75L418.54,195.89L420.79,194.03L423.03,192.20L425.27,192.47L427.51,191.17L429.75,189.69L432.00,188.20L434.24,186.89L436.48,185.57L438.72,184.25L440.96,183.18L443.21,182.43L445.45,181.68L447.69,180.94L449.93,179.85L452.17,178.28L454.42,176.75L456.66,175.41L458.90,174.06L461.14,172.75L463.38,172.01L465.63,171.26L467.87,170.23L470.11,168.75L472.35,167.08L474.59,164.46L476.84,163.46L479.08,162.46L481.32,161.53L483.56,161.00L485.80,160.48L488.05,159.96L490.29,159.36L492.53,158.24L494.77,157.11L497.01,156.33L499.26,155.58L501.50,154.50L503.74,152.26L505.98,149.92L508.22,147.68L510.47,146.46L512.71,145.24L514.95,144.03L517.19,142.25L519.43,140.45L521.68,138.85L523.92,137.31L526.16,135.77L528.40,134.37L530.64,133.67L532.89,132.97L535.13,132.27L537.37,130.97L539.61,129.29L541.85,127.74L544.10,126.21L546.34,124.88L548.58,123.66L550.82,122.23L553.06,120.34L555.31,118.09L557.55,117.10L559.79,116.46L562.03,116.02L564.27,115.60L566.52,114.93L568.76,114.26L571.00,114.00" fill="none" stroke="#6f42c1" stroke-width="0.5"/>
</g>
<g font-size="18">
<text transform="translate(71.00,396) rotate(90)">30-04-2018</text>
<text transform="translate(93.42,396) rotate(90)">09-07-2018</text>
<text transform="translate(115.84,396) rotate(90)">17-09-2018</text>
<text transform="translate(138.26,396) rotate(90)">26-11-2018</text>
<text transform="translate(160.68,396) rotate(90)">04-02-2019</text>
<text transform="translate(183.10,396) rotate(90)">15-04-2019</text>
<text transform="translate(205.52,396) rotate(90)">24-06-2019</text>
<text transform="translate(227.94,396) rotate(90)">02-09-2019</text>
<text transform="translate(250.36,396) rotate(90)">11-11-2019</text>
<text transform="translate(272.78,396) rotate(90)">20-01-2020</text>
<text transform="translate(295.20,396) rotate(90)">30-03-2020</text>
<text transform="translate(317.62,396) rotate(90)">08-06-2020</text>
<text transform="translate(340.04,396) rotate(90)">17-08-2020</text>
<text transform="translate(362.46,396) rotate(90)">26-10-2020</text>
<text transform="translate(384.88,396) rotate(90)">04-01-2021</text>
<text transform="translate(407.30,396) rotate(90)">15-03-2021</text>
<text transform="translate(429.72,396) rotate(90)">24-05-2021</text>
<text transform="translate(452.14,396) rotate(90)">02-08-2021</text>
<text transform="translate(474.56,396) rotate(90)">11-10-2021</text>
<text transform="translate(496.98,396) rotate(90)">20-12-2021</text>
<text transform="translate(519.40,396) rotate(90)">28-02-2022</text>
<text transform="translate(541.82,396) rotate(90)">09-05-2022</text>
<text x="79" y="392.30" text-anchor="end">0</text>
<text x="79" y="346.78" text-anchor="end">100</text>
<text x="79" y="301.26" text-anchor="end">200</text>
<text x="79" y="255.74" text-anchor="end">300</text>
<text x="79" y="210.22" text-anchor="end">400</text>
<text x="79" y="164.70" text-anchor="end">500</text>
<text x="79" y="119.18" text-anchor="end">600</text>
<path d="M585.8,116.10h30v6h-30z" fill="#6f42c1" fill-opacity="0.5"/>
<path d="M585.8,116.10h30" stroke="#6f42c1" stroke-width="0.5" fill="none"/>
<text x="620.8" y="125.20">Merged</text>
<path d="M585.8,142.50h30v6h-30z" fill="#cb2431" fill-opacity="0.5"/>
<path d="M585.8,142.50h30" stroke="#cb2431" stroke-width="0.5" fill="none"/>
<text x="620.8" y="151.60">Closed</text>
<path d="M585.8,168.90h30v6h-30z" fill="#ffff00" fill-opacity="0.5"/>
<path d="M585.8,168.90h30" stroke="#ffff00" stroke-width="0.5" fill="none"/>
<text x="620.8" y="178.00">FCP</text>
<path d="M585.8,195.30h30v6h-30z" fill="#28a745" fill-opacity="0.5"/>
<path d="M585.8,195.30h30" stroke="#28a745" stroke-width="0.5" fill="none"/>
<text x="620.8" y="204.40">New</text>
</g>
<text x="350" y="43.3" text-anchor="middle" font-size="25">Matrix Spec Change Proposals</text>
</svg></body></html>
